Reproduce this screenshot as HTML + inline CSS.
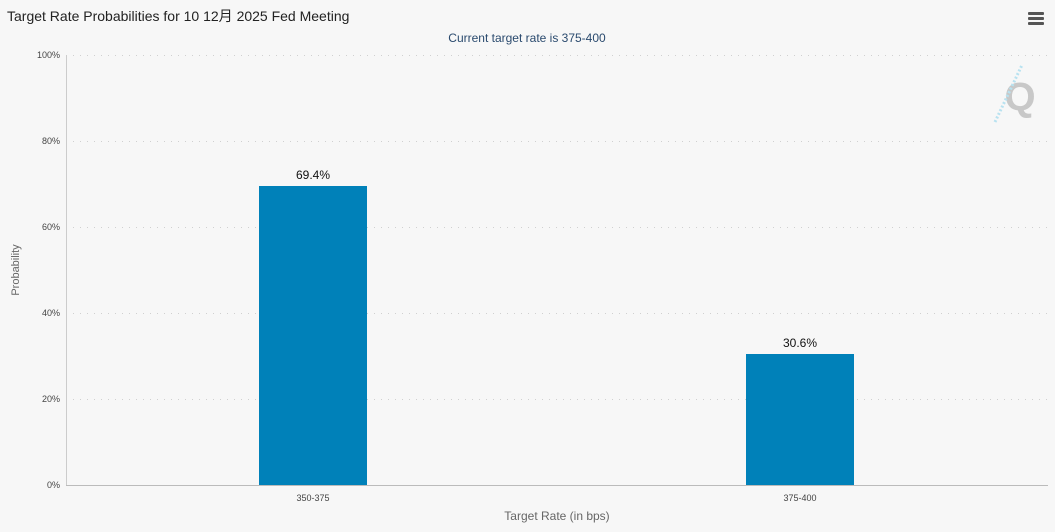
<!DOCTYPE html>
<html><head><meta charset="utf-8"><style>
body{margin:0;background:#f7f7f7;}
svg{display:block;font-family:"Liberation Sans","Noto Sans CJK SC",sans-serif;}
</style></head><body>
<svg width="1055" height="532" viewBox="0 0 1055 532">
<rect width="1055" height="532" fill="#f7f7f7"/>
<text x="7" y="21" font-size="14" fill="#222">Target Rate Probabilities for 10 12月 2025 Fed Meeting</text>
<text x="527" y="42" font-size="12" fill="#2a4a6e" text-anchor="middle">Current target rate is 375-400</text>
<g fill="#555"><rect x="1028" y="12" width="16" height="3" rx="1"/><rect x="1028" y="17" width="16" height="3" rx="1"/><rect x="1028" y="22" width="16" height="3" rx="1"/></g>
<g stroke="#d0d0d0" stroke-dasharray="1,6" stroke-width="1">
<line x1="66" x2="1048" y1="55.5" y2="55.5"/><line x1="66" x2="1048" y1="141.5" y2="141.5"/><line x1="66" x2="1048" y1="227.5" y2="227.5"/><line x1="66" x2="1048" y1="313.5" y2="313.5"/><line x1="66" x2="1048" y1="399.5" y2="399.5"/></g>
<line x1="66.5" x2="66.5" y1="55" y2="485" stroke="#ccc"/>
<line x1="66" x2="1048" y1="485.5" y2="485.5" stroke="#bbb"/>
<g font-size="9" fill="#444" text-anchor="end">
<text x="60" y="58">100%</text><text x="60" y="144">80%</text><text x="60" y="230">60%</text><text x="60" y="316">40%</text><text x="60" y="402">20%</text><text x="60" y="488">0%</text></g>
<text transform="translate(19,270) rotate(-90)" font-size="11" fill="#666" text-anchor="middle">Probability</text>
<rect x="259" y="186" width="108" height="299" fill="#0081b9"/>
<rect x="746" y="354" width="108" height="131" fill="#0081b9"/>
<text x="313" y="179" font-size="12" fill="#111" text-anchor="middle">69.4%</text>
<text x="800" y="347" font-size="12" fill="#111" text-anchor="middle">30.6%</text>
<text x="313" y="501" font-size="9" fill="#444" text-anchor="middle">350-375</text>
<text x="800" y="501" font-size="9" fill="#444" text-anchor="middle">375-400</text>
<text x="557" y="520" font-size="12" fill="#666" text-anchor="middle">Target Rate (in bps)</text>
<text x="1020" y="110" font-size="40" font-weight="bold" fill="#c8c8c8" text-anchor="middle">Q</text>
<line x1="995" y1="122" x2="1022" y2="65" stroke="#b8e2f0" stroke-width="3" stroke-dasharray="2,2"/>
</svg>
</body></html>
